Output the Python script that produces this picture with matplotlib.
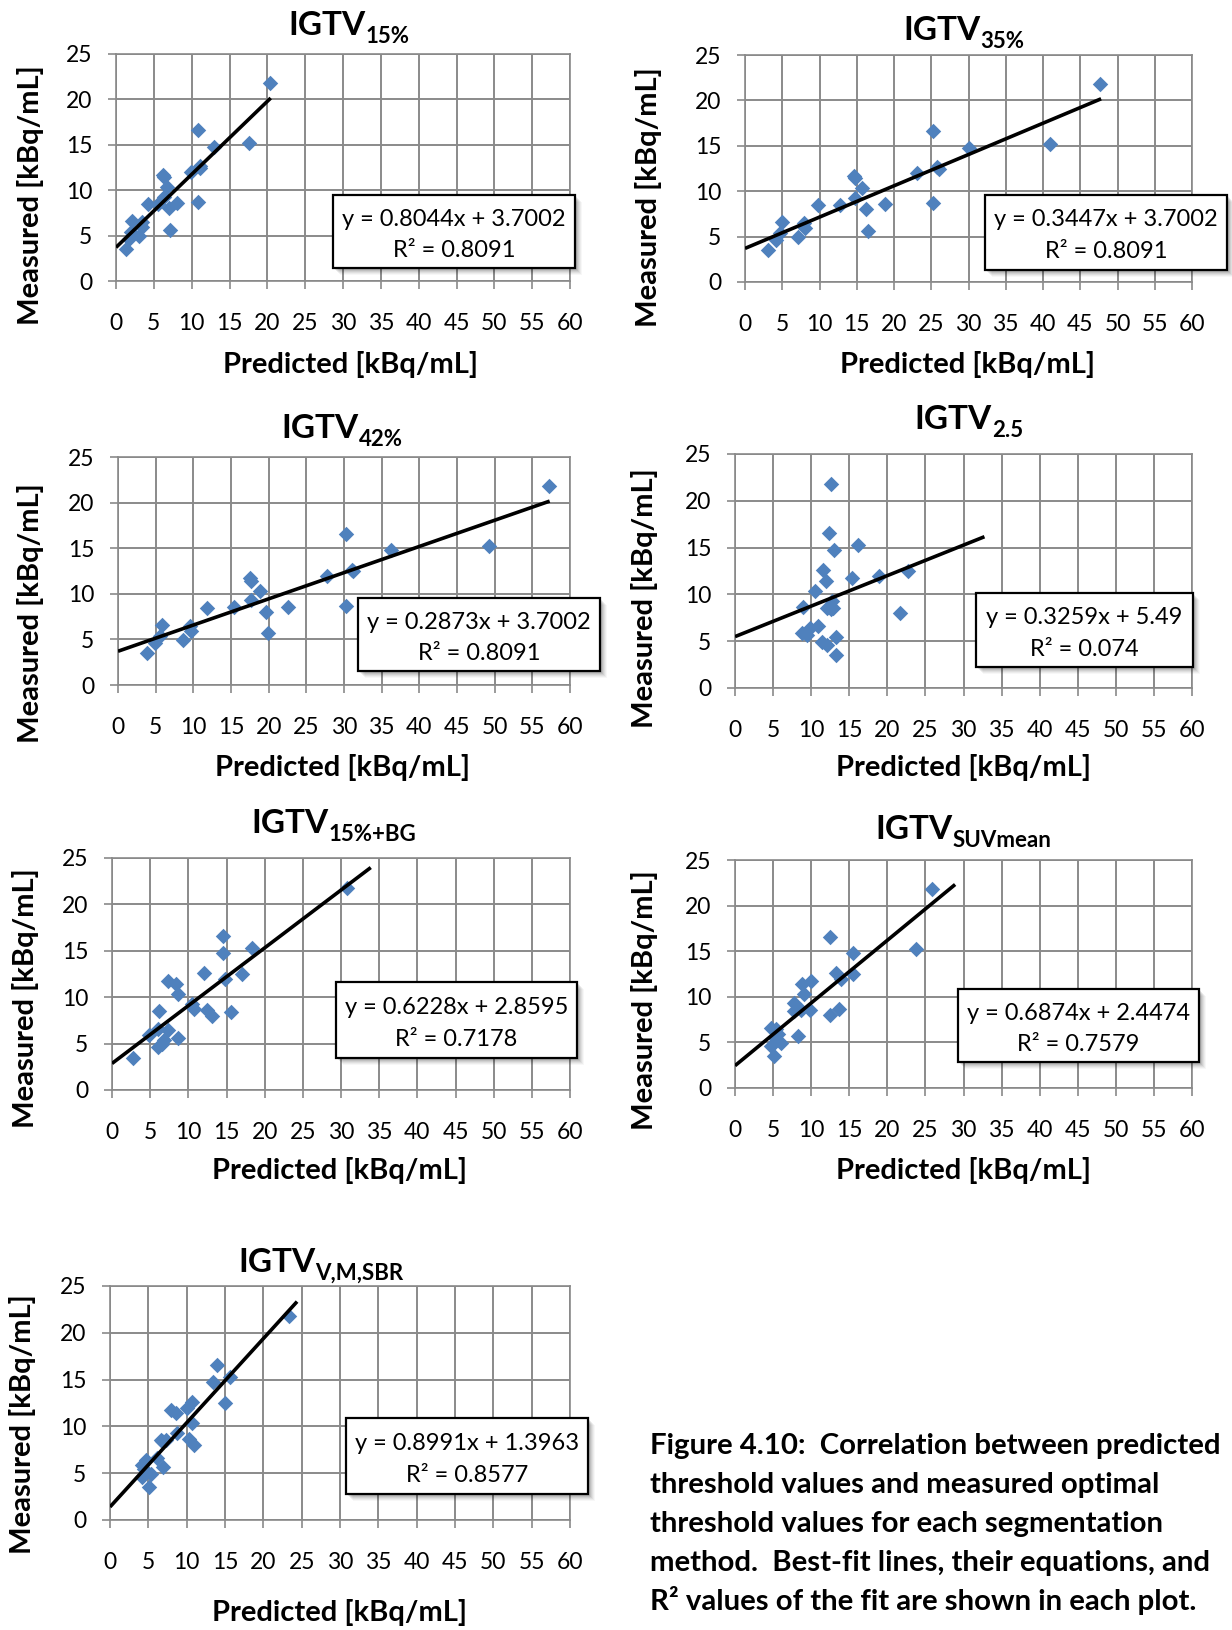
import matplotlib
matplotlib.use("Agg")
import matplotlib.pyplot as plt
from matplotlib.patches import Rectangle

W, H, DPI = 1232, 1630, 100
plt.rcParams["font.family"] = ["Lato", "DejaVu Sans"]

# ---------------------------------------------------------------- data
measured = [21.8, 16.6, 15.25, 14.75, 12.65, 12.5, 12.0, 11.7, 11.45, 10.35, 9.3, 8.7,
            8.6, 8.5, 8.45, 8.0, 6.6, 6.45, 5.9, 5.65, 5.4, 4.95, 4.6, 3.5]

pred_15 = [20.4, 10.8, 17.6, 12.9, 11.05, 11.15, 9.9, 6.25, 6.3, 6.75, 6.3, 10.8,
           8.05, 5.5, 4.2, 7.0, 2.1, 3.4, 3.45, 7.1, 2.0, 3.05, 1.75, 1.35]
pred_35 = [47.6, 25.2, 41.0, 30.1, 25.8, 26.0, 23.1, 14.6, 14.7, 15.75, 14.7, 25.2,
           18.8, 12.8, 9.8, 16.3, 4.9, 7.9, 8.05, 16.5, 4.65, 7.15, 4.1, 3.15]
pred_42 = [57.2, 30.2, 49.2, 36.2, 31.0, 31.2, 27.8, 17.5, 17.6, 18.9, 17.6, 30.2,
           22.5, 15.4, 11.8, 19.6, 5.9, 9.6, 9.7, 19.9, 5.6, 8.6, 4.9, 3.8]
pred_25 = [12.6, 12.4, 16.1, 12.95, 11.55, 22.7, 18.9, 15.35, 12.0, 10.55, 12.7, 8.9,
           12.9, 12.1, 12.6, 21.7, 10.9, 9.9, 8.8, 9.45, 13.2, 11.4, 12.05, 13.2]
pred_bg = [30.8, 14.5, 18.35, 14.6, 12.0, 17.0, 14.8, 7.3, 8.35, 8.6, 10.5, 10.7,
           12.5, 6.2, 15.6, 13.1, 6.0, 7.3, 4.9, 8.6, 6.8, 6.5, 6.0, 2.7]
pred_suv = [25.8, 12.45, 23.8, 15.5, 13.3, 15.5, 13.9, 10.0, 8.8, 9.0, 7.7, 13.6,
            8.7, 9.9, 7.8, 12.45, 4.75, 5.4, 5.6, 8.3, 5.4, 6.1, 4.75, 5.1]
pred_vms = [23.4, 13.9, 15.65, 13.4, 10.65, 15.0, 10.1, 8.0, 8.6, 10.75, 8.7, 10.3,
            7.3, 6.6, 6.8, 10.9, 6.1, 4.65, 4.2, 6.95, 4.4, 5.4, 4.2, 5.1]

predicted = [pred_15, pred_35, pred_42, pred_25, pred_bg, pred_suv, pred_vms]
title_subs = ["15%", "35%", "42%", "2.5", "15%+BG", "SUVmean", "V,M,SBR"]
slopes = [0.8044, 0.3447, 0.2873, 0.3259, 0.6228, 0.6874, 0.8991]
intercepts = [3.7002, 3.7002, 3.7002, 5.49, 2.8595, 2.4474, 1.3963]
r_squared = [0.8091, 0.8091, 0.8091, 0.074, 0.7178, 0.7579, 0.8577]
fit_x_end = [20.45, 47.8, 57.3, 32.75, 33.9, 28.9, 24.4]

x_ticks = list(range(0, 61, 5))
y_ticks = list(range(0, 26, 5))
x_label = "Predicted [kBq/mL]"
y_label = "Measured [kBq/mL]"

caption_lines = [
    "Figure 4.10:  Correlation between predicted",
    "threshold values and measured optimal",
    "threshold values for each segmentation",
    "method.  Best-fit lines, their equations, and",
    "R\u00b2 values of the fit are shown in each plot.",
]

# ---------------------------------------------------------------- layout (pixels)
axes_px = [  # left, top, right, bottom
    (116, 54, 570, 281), (745, 55, 1192, 282),
    (118, 457, 570, 685), (735, 454, 1192, 688),
    (112, 858, 570, 1090), (735, 860, 1192, 1088),
    (110, 1286, 570, 1520),
]
box_px = [
    (333, 195, 575, 268), (985, 195, 1227, 270),
    (358, 598, 600, 671), (976, 593, 1193, 667),
    (336, 982, 577, 1058), (958, 989, 1199, 1062),
    (346, 1418, 588, 1494),
]
title_px = [(349, 23), (964, 28), (342, 426), (969, 417), (334, 821), (963, 827), (321, 1260)]
ylabel_px = [(31, 195), (648, 197), (31, 613), (645, 598), (26, 998), (645, 1000), (23, 1424)]
xlabel_px = [(350, 364), (968, 364), (343, 768), (964, 768), (340, 1171), (964, 1171), (340, 1613)]

GRID = "#8a8a8a"
BLUE = "#4f81bd"

fig = plt.figure(figsize=(W / DPI, H / DPI), dpi=DPI)
fig.patch.set_facecolor("white")
renderer = fig.canvas.get_renderer()


def fx(px):
    return px / W


def fy(py):
    return 1 - py / H


def fmt(v):
    return f"{v:.4f}".rstrip("0").rstrip(".")


for i in range(7):
    l, t, r, b = axes_px[i]
    ax = fig.add_axes([fx(l), fy(b), (r - l) / W, (b - t) / H])
    ax.set_xlim(0, 60)
    ax.set_ylim(0, 25)
    ax.set_xticks(x_ticks)
    ax.set_yticks(y_ticks)
    ax.grid(True, color=GRID, lw=1.4, zorder=0)
    ax.set_axisbelow(True)
    for sp in ax.spines.values():
        sp.set_color(GRID)
        sp.set_linewidth(1.2)
    ax.tick_params(axis="both", direction="out", length=6, width=1.2, color=GRID,
                   labelsize=16.5, labelcolor="black")
    ax.tick_params(axis="x", pad=17)
    ax.tick_params(axis="y", pad=11)

    ax.scatter(predicted[i], measured, marker="D", s=62, color=BLUE, linewidths=0,
               zorder=3, clip_on=False)
    xs = [0, fit_x_end[i]]
    ys = [slopes[i] * x + intercepts[i] for x in xs]
    ax.plot(xs, ys, color="black", lw=2.6, zorder=4, solid_capstyle="butt")

    # axis titles
    cx, cy = ylabel_px[i]
    fig.text(fx(cx), fy(cy), y_label, rotation=90, fontsize=21, fontweight="bold",
             ha="center", va="center")
    cx, cy = xlabel_px[i]
    fig.text(fx(cx), fy(cy), x_label, fontsize=21, fontweight="bold",
             ha="center", va="center")

    # chart title with subscript
    cx, cy = title_px[i]
    t1 = fig.text(0, 0, "IGTV", fontsize=24, fontweight="bold", ha="left", va="baseline")
    t2 = fig.text(0, 0, title_subs[i], fontsize=16, fontweight="bold", ha="left",
                  va="baseline")
    w1 = t1.get_window_extent(renderer).width
    w2 = t2.get_window_extent(renderer).width
    x0 = cx - (w1 + w2) / 2
    base = cy + 12
    t1.set_position((fx(x0), fy(base)))
    t2.set_position((fx(x0 + w1), fy(base + 8)))

    # equation box with soft shadow
    bl, bt, br, bb = box_px[i]
    for k, a in zip(range(7, 0, -1), [0.05, 0.07, 0.09, 0.11, 0.13, 0.15, 0.17]):
        fig.patches.append(Rectangle((fx(bl + k), fy(bb + k)), (br - bl) / W, (bb - bt) / H,
                                     transform=fig.transFigure, facecolor="black",
                                     edgecolor="none", alpha=a * 0.6, zorder=5))
    fig.patches.append(Rectangle((fx(bl), fy(bb)), (br - bl) / W, (bb - bt) / H,
                                 transform=fig.transFigure, facecolor="white",
                                 edgecolor="black", lw=1.6, zorder=6))
    h = bb - bt
    mx = (bl + br) / 2
    fig.text(fx(mx), fy(bt + 0.33 * h),
             f"y = {fmt(slopes[i])}x + {fmt(intercepts[i])}",
             fontsize=17, ha="center", va="center", zorder=7)
    fig.text(fx(mx), fy(bt + 0.76 * h), f"R\u00b2 = {fmt(r_squared[i])}",
             fontsize=17, ha="center", va="center", zorder=7)

# figure caption, sized so the first line spans its column
probe = fig.text(0, 0, caption_lines[0], fontsize=20, fontweight="bold")
pw = probe.get_window_extent(renderer).width
probe.remove()
cap_size = 20 * 574 / pw
baselines = [1454, 1493, 1532, 1571, 1610]
for line, yb in zip(caption_lines, baselines):
    fig.text(fx(650), fy(yb), line, fontsize=cap_size, fontweight="bold",
             ha="left", va="baseline")

fig.savefig("out.png", dpi=DPI)
